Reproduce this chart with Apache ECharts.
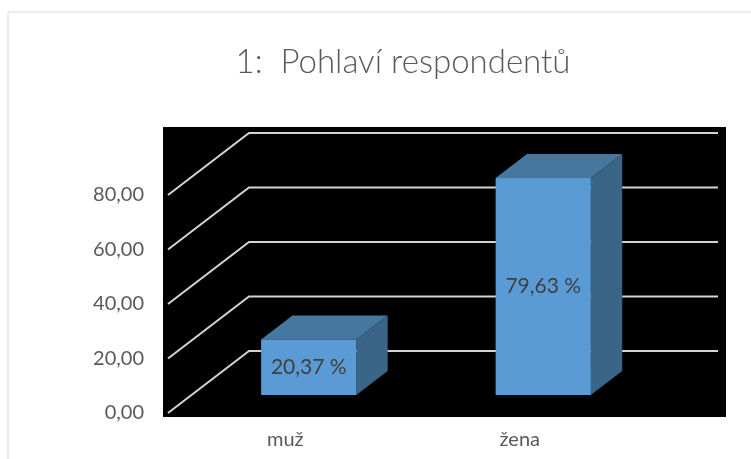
<!DOCTYPE html>
<html>
<head>
<meta charset="utf-8">
<script src="https://cdn.jsdelivr.net/npm/echarts@6/dist/echarts.min.js"></script>
<style>
  html, body { margin: 0; padding: 0; background: #fff; }
  #chart { width: 751px; height: 459px; }
</style>
</head>
<body>
<div id="chart"></div>
<script>
var categories = ['muž', 'žena'];
var percentValues = [20.37, 79.63];
var yTicks = [0, 20, 40, 60, 80];

// oblique depth of the 3D box (full depth of the plot)
var DX = 81, DY = -62;
var BAR_FRONT = 0.29, BAR_DEPTH = 0.387, BAR_W = 0.406;

function fmt(v) {
    return v.toFixed(2).replace('.', ',');
}

var myChart = echarts.init(document.getElementById('chart'));

var option = {
    backgroundColor: '#fff',
    animation: false,
    title: {
        text: '1:  Pohlaví respondentů',
        left: 398,
        top: 41,
        textAlign: 'center',
        textStyle: {
            color: '#595959',
            fontFamily: 'Lato',
            fontWeight: 300,
            fontSize: 33
        }
    },
    graphic: [
        {
            type: 'rect', z: -10, silent: true,
            shape: { x: 8, y: 12, width: 800, height: 500 },
            style: { fill: 'none', stroke: '#d9d9d9', lineWidth: 1 }
        },
        {
            type: 'rect', z: -5, silent: true,
            shape: { x: 163, y: 127, width: 563, height: 290 },
            style: { fill: '#000' }
        }
    ],
    grid: {
        left: 168,
        top: 195,
        width: 469,
        height: 218
    },
    xAxis: {
        type: 'category',
        data: categories,
        axisLine: { show: false },
        axisTick: { show: false },
        splitLine: { show: false },
        axisLabel: {
            margin: 17,
            color: '#595959',
            fontFamily: 'Lato',
            fontSize: 20
        }
    },
    yAxis: {
        type: 'value',
        min: 0,
        max: 80,
        interval: 20,
        axisLine: { show: false },
        axisTick: { show: false },
        splitLine: { show: false },
        axisLabel: {
            margin: 24,
            color: '#595959',
            fontFamily: 'Lato',
            fontSize: 20,
            formatter: function (v) { return fmt(v); }
        }
    },
    series: [
        {
            // side + back walls gridlines
            type: 'custom',
            silent: true,
            z: 1,
            data: yTicks.map(function (t) { return [0, t]; }),
            renderItem: function (params, api) {
                var cs = params.coordSys;
                var y = api.coord([0, api.value(1)])[1];
                return {
                    type: 'polyline',
                    shape: {
                        points: [
                            [cs.x, y],
                            [cs.x + DX, y + DY],
                            [cs.x + cs.width + DX, y + DY]
                        ]
                    },
                    style: { stroke: '#d4d4d4', lineWidth: 2, fill: 'none' }
                };
            }
        },
        {
            type: 'custom',
            z: 3,
            data: percentValues.map(function (v, i) { return [i, v]; }),
            renderItem: function (params, api) {
                var idx = api.value(0), val = api.value(1);
                var base = api.coord([idx, 0]);
                var top = api.coord([idx, val]);
                var w = api.size([1, 0])[0] * BAR_W;
                var ox = DX * BAR_FRONT, oy = DY * BAR_FRONT;
                var dx = DX * BAR_DEPTH, dy = DY * BAR_DEPTH;
                var x0 = base[0] - w / 2 + ox, x1 = x0 + w;
                var y0 = top[1] + oy, y1 = base[1] + oy;
                return {
                    type: 'group',
                    children: [
                        {
                            type: 'polygon',
                            shape: { points: [[x0, y0], [x0 + dx, y0 + dy], [x1 + dx, y0 + dy], [x1, y0]] },
                            style: { fill: '#46779f' }
                        },
                        {
                            type: 'polygon',
                            shape: { points: [[x1, y0], [x1 + dx, y0 + dy], [x1 + dx, y1 + dy], [x1, y1]] },
                            style: { fill: '#3b6588' }
                        },
                        {
                            type: 'rect',
                            shape: { x: x0, y: y0, width: w, height: y1 - y0 },
                            style: { fill: '#5b9bd5' }
                        },
                        {
                            type: 'text',
                            style: {
                                text: fmt(val) + ' %',
                                x: (x0 + x1) / 2,
                                y: (y0 + y1) / 2,
                                align: 'center',
                                verticalAlign: 'middle',
                                fill: '#404040',
                                fontFamily: 'Lato',
                                fontSize: 21
                            }
                        }
                    ]
                };
            }
        }
    ]
};

myChart.setOption(option);
</script>
</body>
</html>
